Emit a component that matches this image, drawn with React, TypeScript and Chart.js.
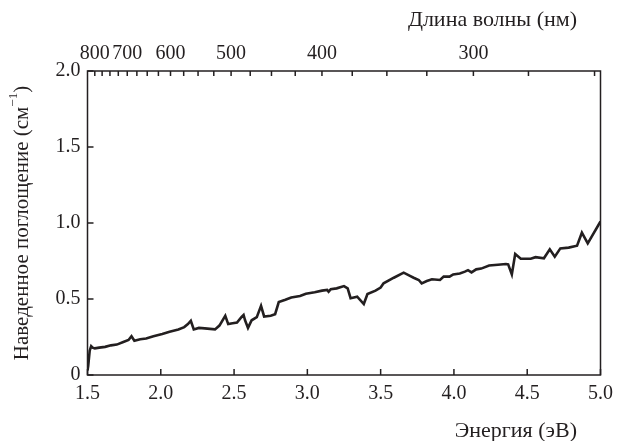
import React, { useEffect, useRef } from "react";
import { Chart, registerables } from "chart.js";

Chart.register(...registerables);

const energy = [
  1.5, 1.505, 1.515, 1.525, 1.535, 1.55, 1.58, 1.62, 1.66, 1.7, 1.74, 1.78, 1.8, 1.82, 1.86, 1.9, 1.95,
  2.01, 2.06, 2.12, 2.16, 2.185, 2.205, 2.225, 2.26, 2.3, 2.37, 2.4, 2.44, 2.46, 2.49, 2.52, 2.55, 2.565,
  2.575, 2.595, 2.62, 2.655, 2.684, 2.705, 2.75, 2.78, 2.805, 2.85, 2.89, 2.95, 2.99, 3.05, 3.1, 3.135,
  3.145, 3.16, 3.2, 3.25, 3.275, 3.295, 3.34, 3.385, 3.41, 3.465, 3.5, 3.52, 3.59, 3.657, 3.7, 3.725,
  3.76, 3.78, 3.815, 3.85, 3.905, 3.93, 3.97, 3.995, 4.04, 4.075, 4.096, 4.12, 4.152, 4.186, 4.24, 4.3,
  4.355, 4.37, 4.395, 4.418, 4.456, 4.524, 4.557, 4.614, 4.654, 4.688, 4.726, 4.783, 4.84, 4.873, 4.913, 5.0,
];

const absorption = [
  0.03, 0.06, 0.16, 0.19, 0.18, 0.175, 0.18, 0.185, 0.195, 0.2, 0.215, 0.23, 0.255, 0.225, 0.235, 0.24, 0.255,
  0.27, 0.285, 0.3, 0.315, 0.335, 0.357, 0.3, 0.31, 0.307, 0.3, 0.325, 0.39, 0.335, 0.34, 0.345, 0.38, 0.395,
  0.36, 0.31, 0.36, 0.38, 0.455, 0.385, 0.39, 0.4, 0.48, 0.495, 0.51, 0.52, 0.535, 0.545, 0.555, 0.56,
  0.548, 0.565, 0.57, 0.585, 0.57, 0.505, 0.515, 0.467, 0.533, 0.555, 0.575, 0.603, 0.64, 0.673, 0.652, 0.64,
  0.625, 0.603, 0.618, 0.63, 0.625, 0.647, 0.647, 0.662, 0.668, 0.68, 0.69, 0.675, 0.695, 0.7, 0.72, 0.725,
  0.73, 0.728, 0.662, 0.796, 0.765, 0.765, 0.775, 0.768, 0.827, 0.778, 0.833, 0.838, 0.851, 0.936, 0.866, 1.01,
];

const energyTicks = [1.5, 2.0, 2.5, 3.0, 3.5, 4.0, 4.5, 5.0];
const absorptionTicks = [0, 0.5, 1.0, 1.5, 2.0];
const wavelengthTicks = [
  800, 775, 750, 725, 700, 675, 650, 625, 600, 575, 550, 525, 500, 475, 450, 425, 400, 375, 350, 325, 300, 275, 250,
];
const wavelengthLabels = [800, 700, 600, 500, 400, 300];

const xTitle = "Энергия (эВ)";
const topTitle = "Длина волны (нм)";
const yTitle = "Наведенное поглощение (см";
const yTitleSup = "−1";

const HC = 1239.84;
const INK = "#231f20";
const FONT = "Liberation Serif";

const framePlugin = {
  id: "frame",
  afterDraw(chart: any) {
    const { ctx, chartArea, scales } = chart;
    const { left, right, top, bottom } = chartArea;
    ctx.save();
    ctx.strokeStyle = INK;
    ctx.lineWidth = 1.5;
    ctx.strokeRect(left, top, right - left, bottom - top);
    ctx.beginPath();
    scales.x.ticks.forEach((t: any) => {
      const p = scales.x.getPixelForValue(t.value);
      ctx.moveTo(p, bottom);
      ctx.lineTo(p, bottom - 6);
    });
    scales.y.ticks.forEach((t: any) => {
      const p = scales.y.getPixelForValue(t.value);
      ctx.moveTo(left, p);
      ctx.lineTo(left + 6, p);
    });
    scales.xTop.ticks.forEach((t: any) => {
      const p = scales.xTop.getPixelForValue(t.value);
      ctx.moveTo(p, top);
      ctx.lineTo(p, top + 5);
    });
    ctx.stroke();

    ctx.fillStyle = INK;
    ctx.font = `22px "${FONT}"`;
    ctx.textAlign = "right";
    ctx.textBaseline = "alphabetic";
    ctx.fillText(xTitle, 577, 437);
    ctx.fillText(topTitle, 577, 26);

    // rotated y title with superscript
    ctx.translate(22, (top + bottom) / 2);
    ctx.rotate(-Math.PI / 2);
    ctx.font = `21px "${FONT}"`;
    const w1 = ctx.measureText(yTitle).width;
    ctx.font = `13px "${FONT}"`;
    const w2 = ctx.measureText(yTitleSup).width;
    ctx.font = `21px "${FONT}"`;
    const w3 = ctx.measureText(")").width;
    const total = w1 + w2 + w3;
    let x = -total / 2;
    ctx.textAlign = "left";
    ctx.textBaseline = "middle";
    ctx.fillText(yTitle, x, 0);
    x += w1;
    ctx.font = `13px "${FONT}"`;
    ctx.fillText(yTitleSup, x, -8);
    x += w2;
    ctx.font = `21px "${FONT}"`;
    ctx.fillText(")", x, 0);
    ctx.restore();
  },
};

export default function App() {
  const ref = useRef<HTMLCanvasElement | null>(null);

  useEffect(() => {
    if (!ref.current) return;
    const data = energy.map((e, i) => ({ x: e, y: absorption[i] }));
    const chart = new Chart(ref.current, {
      type: "line",
      data: {
        datasets: [
          {
            data,
            borderColor: INK,
            borderWidth: 2.6,
            pointRadius: 0,
            tension: 0,
            fill: false,
            xAxisID: "x",
            yAxisID: "y",
          },
        ],
      },
      options: {
        responsive: false,
        animation: false,
        events: [],
        layout: { padding: { left: 0, right: 15, top: 0, bottom: 0 } },
        plugins: { legend: { display: false }, tooltip: { enabled: false } },
        scales: {
          x: {
            type: "linear",
            position: "bottom",
            min: 1.5,
            max: 5.0,
            afterBuildTicks: (s: any) => {
              s.ticks = energyTicks.map((v) => ({ value: v }));
            },
            afterFit: (s: any) => {
              s.height = 66;
            },
            grid: { display: false, drawTicks: false },
            border: { display: false },
            ticks: {
              autoSkip: false,
              maxRotation: 0,
              padding: 7,
              color: INK,
              font: { family: FONT, size: 20 },
              callback: (v: any) => Number(v).toFixed(1),
            },
          },
          xTop: {
            type: "linear",
            position: "top",
            min: 1.5,
            max: 5.0,
            afterBuildTicks: (s: any) => {
              s.ticks = wavelengthTicks.map((w) => ({ value: HC / w }));
            },
            afterFit: (s: any) => {
              s.height = 71;
            },
            grid: { display: false, drawTicks: false },
            border: { display: false },
            ticks: {
              autoSkip: false,
              maxRotation: 0,
              padding: 5,
              color: INK,
              font: { family: FONT, size: 20 },
              callback: (v: any) => {
                const w = Math.round(HC / Number(v));
                return wavelengthLabels.includes(w) ? String(w) : "";
              },
            },
          },
          y: {
            type: "linear",
            position: "left",
            min: 0,
            max: 2.0,
            afterBuildTicks: (s: any) => {
              s.ticks = absorptionTicks.map((v) => ({ value: v }));
            },
            afterFit: (s: any) => {
              s.width = 87.5;
            },
            grid: { display: false, drawTicks: false },
            border: { display: false },
            ticks: {
              padding: 7,
              color: INK,
              font: { family: FONT, size: 20 },
              callback: (v: any) => (Number(v) === 0 ? "0" : Number(v).toFixed(1)),
            },
          },
        },
      },
      plugins: [framePlugin],
    });
    return () => chart.destroy();
  }, []);

  return (
    <div style={{ position: "absolute", left: 0, top: 0, width: 620, height: 441, background: "#fff" }}>
      <canvas ref={ref} width={620} height={441} style={{ display: "block" }} />
    </div>
  );
}
